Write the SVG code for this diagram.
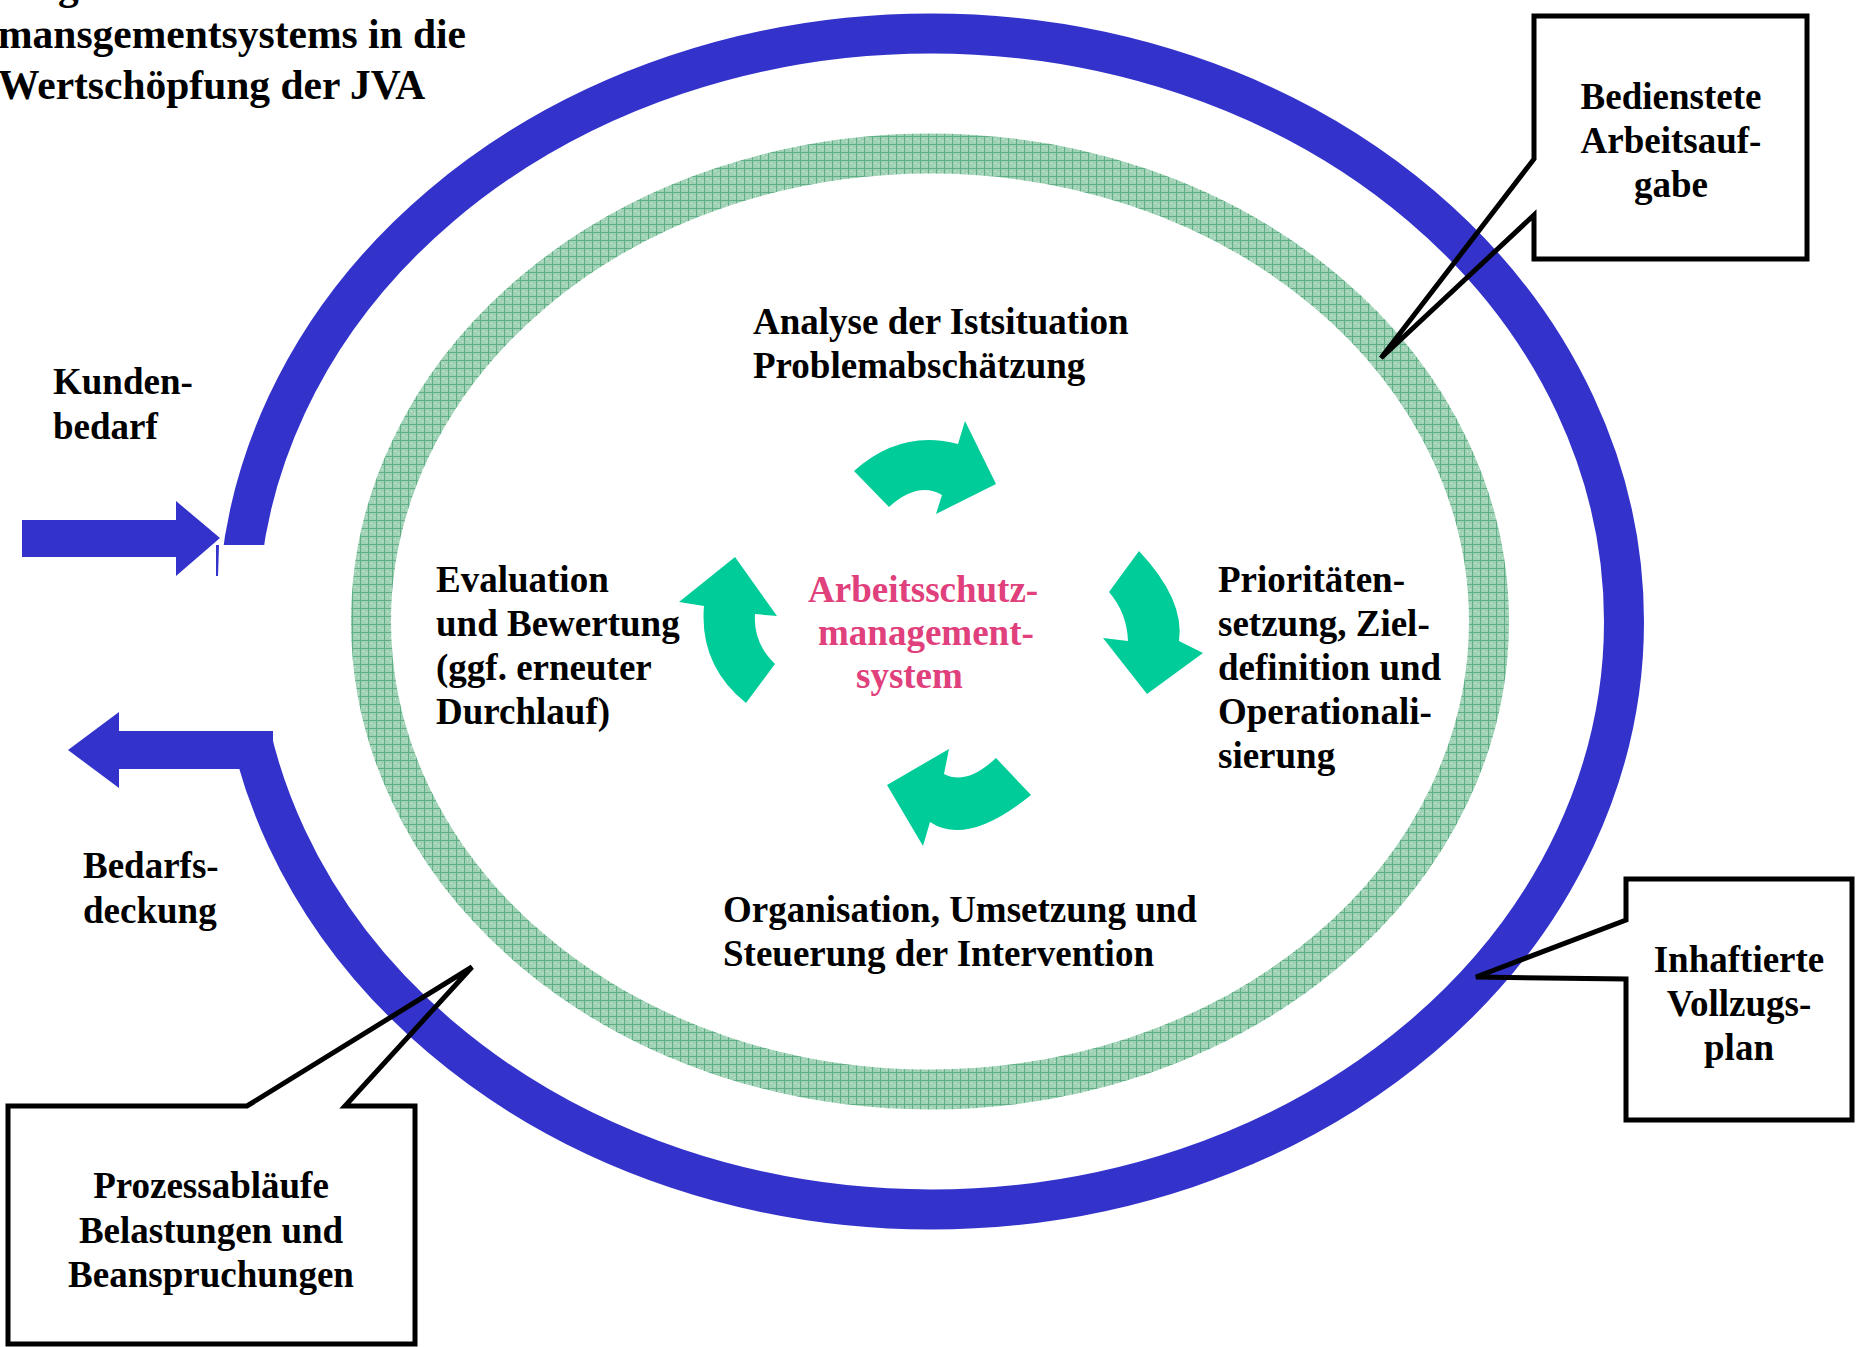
<svg xmlns="http://www.w3.org/2000/svg" width="1858" height="1347" viewBox="0 0 1858 1347">
<defs>
<pattern id="hatch" width="8" height="8" patternUnits="userSpaceOnUse">
<rect width="8" height="8" fill="#9fd2b4"/>
<path d="M0 0.5H8M0.5 0V8" stroke="#5fae88" stroke-width="1"/>
<rect x="3" y="3" width="1" height="1" fill="#dcefe4"/>
<rect x="6" y="5" width="1" height="1" fill="#dcefe4"/>
</pattern>
<mask id="gap" maskUnits="userSpaceOnUse" x="0" y="0" width="1858" height="1347">
<rect width="1858" height="1347" fill="#fff"/>
<rect x="150" y="545" width="160" height="186" fill="#000"/>
</mask>
<style>
.t{font-family:"Liberation Serif","Times New Roman",serif;font-weight:bold;font-size:37px;fill:#000}
.title{font-size:41.5px}
.c{text-anchor:middle}
.pink{fill:#e0407b}
.blue{fill:#3333cc}
.ga{fill:#00cc99}
.callout{fill:none;stroke:#000;stroke-width:5;stroke-linejoin:miter;stroke-miterlimit:4}
</style>
</defs>
<rect width="1858" height="1347" fill="#fff"/>

<g id="title">
<text class="t title" x="58" y="-1">g</text>
<text class="t title" x="-2" y="48">mansgementsystems in die</text>
<text class="t title" x="-2" y="99">Wertschöpfung der JVA</text>
</g>

<g id="inner-ring">
<ellipse cx="930" cy="621.5" rx="559" ry="468" fill="none" stroke="url(#hatch)" stroke-width="40"/>
</g>

<g id="value-chain">
<ellipse cx="931" cy="621.5" rx="693" ry="588" fill="none" stroke="#3333cc" stroke-width="40" mask="url(#gap)"/>
<polygon class="blue" points="22,520 176,520 176,501 220,538 176,576 176,557 22,557"/>
<polygon class="blue" points="216,545 219,545 218,576 216,576"/>
<polygon class="blue" points="273,731 273,757 262,769 119,769 119,788 68,750 119,712 119,731"/>
</g>

<g id="cycle-arrows">
<path id="arrow-top" class="ga" d="M854,471 Q901,429 958,444 L965,421 L996,484 L936,514 L942,495 Q918,481 889,507 Z"/>
<path id="arrow-right" class="ga" d="M1139,551 Q1185,600 1179,641 L1203,653 L1147,694 L1103,638 L1128,641 Q1127,613 1109,592 Z"/>
<path id="arrow-bottom" class="ga" d="M923,846 L887,785 L949,749 L944,774 Q966,786 996,758 L1031,795 Q967,847 930,822 Z"/>
<path id="arrow-left" class="ga" d="M735,557 L777,616 L755,614 Q753,643 775,664 L746,703 Q699,665 704,606 L679,602 Z"/>
</g>

<g id="center">
<text class="t pink" x="808" y="602">Arbeitsschutz-</text>
<text class="t pink" x="818" y="645">management-</text>
<text class="t pink" x="856" y="688">system</text>
</g>

<g id="step-analyse">
<text class="t" x="753" y="334">Analyse der Istsituation</text>
<text class="t" x="753" y="378">Problemabschätzung</text>
</g>

<g id="step-prioritaeten">
<text class="t" x="1218" y="592">Prioritäten-</text>
<text class="t" x="1218" y="636">setzung, Ziel-</text>
<text class="t" x="1218" y="680">definition und</text>
<text class="t" x="1218" y="724">Operationali-</text>
<text class="t" x="1218" y="768">sierung</text>
</g>

<g id="step-organisation">
<text class="t" x="723" y="922">Organisation, Umsetzung und</text>
<text class="t" x="723" y="966">Steuerung der Intervention</text>
</g>

<g id="step-evaluation">
<text class="t" x="436" y="592">Evaluation</text>
<text class="t" x="436" y="636">und Bewertung</text>
<text class="t" x="436" y="680">(ggf. erneuter</text>
<text class="t" x="436" y="724">Durchlauf)</text>
</g>

<g id="kundenbedarf">
<text class="t" x="53" y="394">Kunden-</text>
<text class="t" x="53" y="439">bedarf</text>
</g>

<g id="bedarfsdeckung">
<text class="t" x="83" y="878">Bedarfs-</text>
<text class="t" x="83" y="923">deckung</text>
</g>

<g id="callout-bedienstete">
<path class="callout" d="M1534,16 L1807,16 L1807,259 L1534,259 L1534,215 L1381,358 L1534,159 Z"/>
<text class="t c" x="1671" y="109">Bedienstete</text>
<text class="t c" x="1671" y="153">Arbeitsauf-</text>
<text class="t c" x="1671" y="197">gabe</text>
</g>

<g id="callout-inhaftierte">
<path class="callout" d="M1626,879 L1852,879 L1852,1120 L1626,1120 L1626,979 L1476,977 L1626,920 Z"/>
<text class="t c" x="1739" y="972">Inhaftierte</text>
<text class="t c" x="1739" y="1016">Vollzugs-</text>
<text class="t c" x="1739" y="1060">plan</text>
</g>

<g id="callout-prozess">
<path class="callout" d="M8,1106 L247,1106 L472,967 L345,1106 L415,1106 L415,1344 L8,1344 Z"/>
<text class="t c" x="211" y="1198">Prozessabläufe</text>
<text class="t c" x="211" y="1243">Belastungen und</text>
<text class="t c" x="211" y="1287">Beanspruchungen</text>
</g>
</svg>
